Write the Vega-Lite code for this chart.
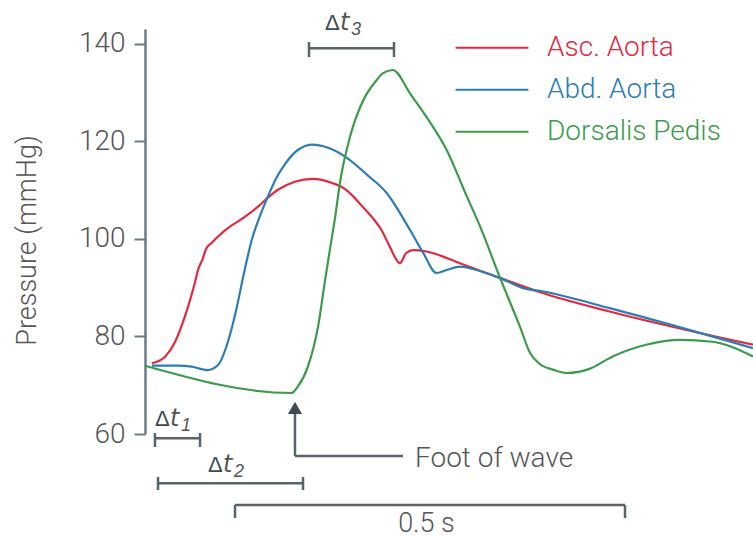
{
  "$schema": "https://vega.github.io/schema/vega-lite/v6.json",
  "width": 608,
  "height": 405,
  "autosize": "none",
  "padding": {"left": 145, "top": 29, "right": 0, "bottom": 105},
  "background": "white",
  "config": {"view": {"stroke": null}, "font": "Roboto"},
  "datasets": {
    "curves": [
      {"series": "Asc. Aorta", "t": 9, "p": 74.5},
      {"series": "Asc. Aorta", "t": 26, "p": 75.9},
      {"series": "Asc. Aorta", "t": 38, "p": 78.7},
      {"series": "Asc. Aorta", "t": 51, "p": 84.0},
      {"series": "Asc. Aorta", "t": 64, "p": 91.0},
      {"series": "Asc. Aorta", "t": 68, "p": 93.6},
      {"series": "Asc. Aorta", "t": 74, "p": 95.9},
      {"series": "Asc. Aorta", "t": 78, "p": 97.8},
      {"series": "Asc. Aorta", "t": 85, "p": 99.1},
      {"series": "Asc. Aorta", "t": 103, "p": 101.8},
      {"series": "Asc. Aorta", "t": 128, "p": 104.5},
      {"series": "Asc. Aorta", "t": 145, "p": 106.6},
      {"series": "Asc. Aorta", "t": 154, "p": 107.9},
      {"series": "Asc. Aorta", "t": 170, "p": 110.0},
      {"series": "Asc. Aorta", "t": 192, "p": 111.7},
      {"series": "Asc. Aorta", "t": 215, "p": 112.3},
      {"series": "Asc. Aorta", "t": 241, "p": 111.4},
      {"series": "Asc. Aorta", "t": 256, "p": 110.3},
      {"series": "Asc. Aorta", "t": 267, "p": 108.7},
      {"series": "Asc. Aorta", "t": 278, "p": 106.8},
      {"series": "Asc. Aorta", "t": 292, "p": 104.3},
      {"series": "Asc. Aorta", "t": 303, "p": 101.9},
      {"series": "Asc. Aorta", "t": 314, "p": 98.4},
      {"series": "Asc. Aorta", "t": 327, "p": 95.0},
      {"series": "Asc. Aorta", "t": 335, "p": 97.1},
      {"series": "Asc. Aorta", "t": 344, "p": 97.7},
      {"series": "Asc. Aorta", "t": 361, "p": 97.4},
      {"series": "Asc. Aorta", "t": 404, "p": 95.0},
      {"series": "Asc. Aorta", "t": 455, "p": 92.0},
      {"series": "Asc. Aorta", "t": 510, "p": 88.9},
      {"series": "Asc. Aorta", "t": 596, "p": 85.1},
      {"series": "Asc. Aorta", "t": 780, "p": 78.3},
      {"series": "Abd. Aorta", "t": 9, "p": 74.0},
      {"series": "Abd. Aorta", "t": 42, "p": 74.0},
      {"series": "Abd. Aorta", "t": 60, "p": 73.8},
      {"series": "Abd. Aorta", "t": 70, "p": 73.4},
      {"series": "Abd. Aorta", "t": 80, "p": 73.1},
      {"series": "Abd. Aorta", "t": 94, "p": 74.2},
      {"series": "Abd. Aorta", "t": 106, "p": 78.7},
      {"series": "Abd. Aorta", "t": 117, "p": 85.4},
      {"series": "Abd. Aorta", "t": 127, "p": 93.0},
      {"series": "Abd. Aorta", "t": 137, "p": 99.8},
      {"series": "Abd. Aorta", "t": 148, "p": 104.9},
      {"series": "Abd. Aorta", "t": 158, "p": 108.8},
      {"series": "Abd. Aorta", "t": 168, "p": 112.3},
      {"series": "Abd. Aorta", "t": 180, "p": 115.4},
      {"series": "Abd. Aorta", "t": 196, "p": 118.2},
      {"series": "Abd. Aorta", "t": 215, "p": 119.3},
      {"series": "Abd. Aorta", "t": 234, "p": 118.7},
      {"series": "Abd. Aorta", "t": 259, "p": 116.6},
      {"series": "Abd. Aorta", "t": 285, "p": 113.1},
      {"series": "Abd. Aorta", "t": 310, "p": 109.4},
      {"series": "Abd. Aorta", "t": 340, "p": 101.8},
      {"series": "Abd. Aorta", "t": 357, "p": 97.1},
      {"series": "Abd. Aorta", "t": 374, "p": 93.0},
      {"series": "Abd. Aorta", "t": 387, "p": 93.6},
      {"series": "Abd. Aorta", "t": 404, "p": 94.3},
      {"series": "Abd. Aorta", "t": 425, "p": 93.6},
      {"series": "Abd. Aorta", "t": 455, "p": 92.0},
      {"series": "Abd. Aorta", "t": 485, "p": 89.9},
      {"series": "Abd. Aorta", "t": 511, "p": 89.2},
      {"series": "Abd. Aorta", "t": 596, "p": 85.8},
      {"series": "Abd. Aorta", "t": 780, "p": 77.6},
      {"series": "Dorsalis Pedis", "t": 0, "p": 74.0},
      {"series": "Dorsalis Pedis", "t": 188, "p": 68.4},
      {"series": "Dorsalis Pedis", "t": 196, "p": 69.7},
      {"series": "Dorsalis Pedis", "t": 209, "p": 73.8},
      {"series": "Dorsalis Pedis", "t": 222, "p": 82.0},
      {"series": "Dorsalis Pedis", "t": 231, "p": 91.5},
      {"series": "Dorsalis Pedis", "t": 238, "p": 98.6},
      {"series": "Dorsalis Pedis", "t": 244, "p": 104.5},
      {"series": "Dorsalis Pedis", "t": 250, "p": 111.4},
      {"series": "Dorsalis Pedis", "t": 263, "p": 120.9},
      {"series": "Dorsalis Pedis", "t": 280, "p": 128.4},
      {"series": "Dorsalis Pedis", "t": 297, "p": 132.5},
      {"series": "Dorsalis Pedis", "t": 305, "p": 133.9},
      {"series": "Dorsalis Pedis", "t": 318, "p": 134.6},
      {"series": "Dorsalis Pedis", "t": 340, "p": 129.8},
      {"series": "Dorsalis Pedis", "t": 361, "p": 125.0},
      {"series": "Dorsalis Pedis", "t": 387, "p": 118.2},
      {"series": "Dorsalis Pedis", "t": 412, "p": 109.0},
      {"series": "Dorsalis Pedis", "t": 430, "p": 102.5},
      {"series": "Dorsalis Pedis", "t": 455, "p": 92.2},
      {"series": "Dorsalis Pedis", "t": 481, "p": 82.0},
      {"series": "Dorsalis Pedis", "t": 494, "p": 76.6},
      {"series": "Dorsalis Pedis", "t": 506, "p": 74.4},
      {"series": "Dorsalis Pedis", "t": 523, "p": 73.2},
      {"series": "Dorsalis Pedis", "t": 541, "p": 72.5},
      {"series": "Dorsalis Pedis", "t": 571, "p": 73.4},
      {"series": "Dorsalis Pedis", "t": 600, "p": 75.9},
      {"series": "Dorsalis Pedis", "t": 643, "p": 78.3},
      {"series": "Dorsalis Pedis", "t": 686, "p": 79.3},
      {"series": "Dorsalis Pedis", "t": 728, "p": 78.9},
      {"series": "Dorsalis Pedis", "t": 780, "p": 75.9}
    ],
    "segments": [
      {"t": 210.4, "p": 139.05, "t2": 319.4, "p2": 139.05},
      {"t": 210.4, "p": 140.34, "t2": 210.4, "p2": 137.26},
      {"t": 319.4, "p": 140.34, "t2": 319.4, "p2": 137.26},
      {"t": 12.8, "p": 59.12, "t2": 70.6, "p2": 59.12},
      {"t": 12.8, "p": 60.2, "t2": 12.8, "p2": 57.34},
      {"t": 70.6, "p": 60.2, "t2": 70.6, "p2": 57.34},
      {"t": 16.7, "p": 49.9, "t2": 202.7, "p2": 49.9},
      {"t": 16.7, "p": 51.19, "t2": 16.7, "p2": 48.52},
      {"t": 202.7, "p": 51.19, "t2": 202.7, "p2": 48.52},
      {"t": 115.5, "p": 45.45, "t2": 615.8, "p2": 45.45},
      {"t": 115.5, "p": 45.45, "t2": 115.5, "p2": 42.79},
      {"t": 615.8, "p": 45.45, "t2": 615.8, "p2": 42.79},
      {"t": 192.4, "p": 64.92, "t2": 192.4, "p2": 55.49},
      {"t": 192.4, "p": 55.49, "t2": 331.0, "p2": 55.49}
    ],
    "arrow": [{"t": 192.4, "p": 65.33}],
    "footnote": [{"t": 346.4, "p": 53.24, "label": "Foot of wave"}],
    "scalenote": [{"t": 361.1, "p": 39.92, "label": "0.5 s"}],
    "deltas": [
      {"t": 230.9, "p": 142.8, "sub": "3"},
      {"t": 12.8, "p": 61.64, "sub": "1"},
      {"t": 80.8, "p": 52.21, "sub": "2"}
    ]
  },
  "encoding": {
    "x": {"field": "t", "type": "quantitative", "scale": {"domain": [0, 780], "nice": false, "zero": false}, "axis": null},
    "y": {
      "field": "p", "type": "quantitative",
      "scale": {"domain": [60, 143], "nice": false, "zero": false},
      "axis": {
        "title": "Pressure (mmHg)",
        "values": [60, 80, 100, 120, 140],
        "grid": false,
        "domainColor": "#6c7a82", "domainWidth": 2.5,
        "tickColor": "#6c7a82", "tickWidth": 2, "tickSize": 11,
        "labelFont": "Roboto", "labelFontSize": 28, "labelFontWeight": 300, "labelColor": "#555555", "labelPadding": 9,
        "titleFont": "Roboto", "titleFontSize": 27, "titleFontWeight": 300, "titleColor": "#555555",
        "titleX": -104, "titleY": 211
      }
    }
  },
  "layer": [
    {
      "data": {"name": "curves"},
      "mark": {"type": "line", "interpolate": "monotone", "strokeWidth": 2.2},
      "encoding": {
        "color": {
          "field": "series", "type": "nominal",
          "scale": {"domain": ["Asc. Aorta", "Abd. Aorta", "Dorsalis Pedis"], "range": ["#e2293f", "#2b7db3", "#3b9b4b"]},
          "legend": {
            "title": null, "orient": "none", "legendX": 309, "legendY": -2,
            "symbolType": "stroke", "symbolSize": 5300, "symbolStrokeWidth": 2.2,
            "labelFont": "Roboto", "labelFontSize": 28, "labelFontWeight": 300, "labelOffset": 17, "labelLimit": 0,
            "rowPadding": 0, "clipHeight": 41.5,
            "encode": {"labels": {"update": {"fill": {"scale": "color", "field": "value"}}}}
          }
        }
      }
    },
    {
      "data": {"name": "segments"},
      "mark": {"type": "rule", "color": "#56646c", "strokeWidth": 2.5},
      "encoding": {"x2": {"field": "t2"}, "y2": {"field": "p2"}}
    },
    {
      "data": {"name": "arrow"},
      "mark": {"type": "point", "shape": "triangle-up", "filled": true, "size": 200, "color": "#3f4c54", "opacity": 1}
    },
    {
      "data": {"name": "footnote"},
      "mark": {"type": "text", "font": "Roboto", "fontSize": 28, "fontWeight": 300, "color": "#555555", "baseline": "alphabetic", "align": "left"},
      "encoding": {"text": {"field": "label"}}
    },
    {
      "data": {"name": "scalenote"},
      "mark": {"type": "text", "font": "Roboto", "fontSize": 27, "fontWeight": 300, "color": "#555555", "baseline": "alphabetic", "align": "center"},
      "encoding": {"text": {"field": "label"}}
    },
    {
      "data": {"name": "deltas"},
      "mark": {"type": "text", "font": "Liberation Sans", "fontSize": 22, "color": "#3d4a52", "align": "left", "baseline": "alphabetic", "text": "Δ"}
    },
    {
      "data": {"name": "deltas"},
      "mark": {"type": "text", "font": "DejaVu Sans", "fontSize": 24, "fontStyle": "italic", "color": "#555555", "align": "left", "baseline": "alphabetic", "text": "t", "dx": 15}
    },
    {
      "data": {"name": "deltas"},
      "mark": {"type": "text", "font": "Liberation Sans", "fontSize": 18, "fontStyle": "italic", "color": "#555555", "align": "left", "baseline": "alphabetic", "dx": 26, "dy": 5},
      "encoding": {"text": {"field": "sub"}}
    }
  ]
}
